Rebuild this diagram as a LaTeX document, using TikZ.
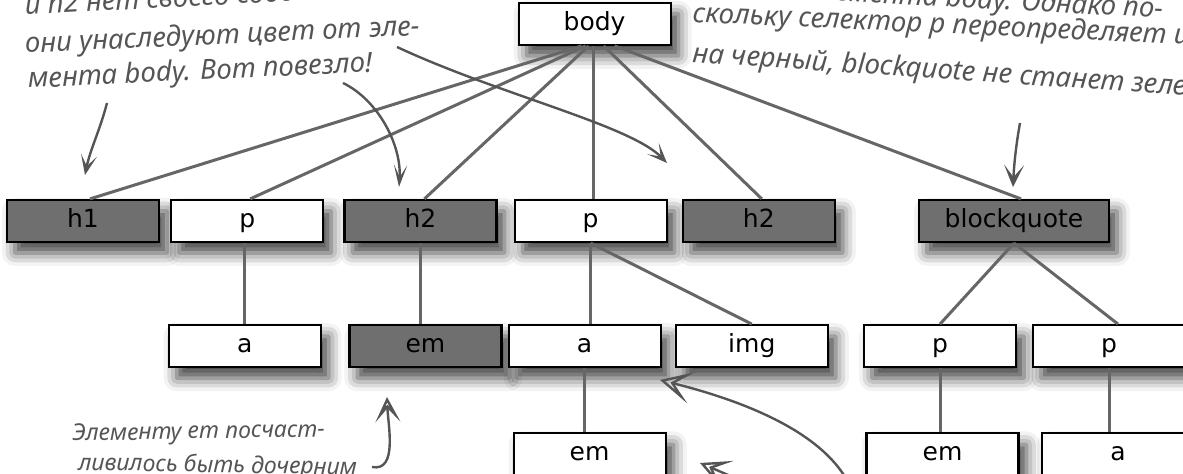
\documentclass[tikz,border=0pt]{standalone}
\usepackage{fontspec}
\setmainfont{DejaVu Sans}
\newfontfamily\handfont{Noto Sans}
\usetikzlibrary{arrows.meta,positioning,calc,shadows.blur}

\definecolor{branchgray}{HTML}{666666}
\definecolor{darkfill}{HTML}{6F6F6F}
\definecolor{notegray}{HTML}{555555}

\begin{document}
\begin{tikzpicture}[
  x=0.5pt, y=-0.5pt,
  elem/.style={draw=black, line width=1.1pt, fill=white, minimum width=76pt, minimum height=21pt, inner sep=0pt,
    text height=9pt, text depth=2.5pt, font=\fontsize{12.5}{13}\selectfont,
    blur shadow={shadow xshift=4pt, shadow yshift=-5.5pt, shadow blur radius=6.5pt, shadow opacity=75}},
  elemdark/.style={elem, fill=darkfill},
  branch/.style={draw=branchgray, line width=1.5pt},
  note/.style={text=notegray, inner sep=0pt, font=\handfont\itshape\fontsize{13.8}{16}\selectfont},
  small note/.style={note, font=\handfont\itshape\fontsize{11.5}{14}\selectfont},
  pointer/.style 2 args={draw=notegray, line width=1.2pt, -{Stealth[open, length=#1, width'=0pt #2, inset'=0pt 0.55]}},
]
  \useasboundingbox (0,0) rectangle (1183,474);
  \clip (0,0) rectangle (1183,474);

  % Row of body's children
  \node[elemdark] (h1) at (83,221) {h1};
  \node[elem, right=5pt of h1] (p1) {p};
  \node[elemdark, right=9.5pt of p1] (h2) {h2};
  \node[elem, right=8pt of h2] (p2) {p};
  \node[elemdark, right=7pt of p2] (h2b) {h2};
  \node[elemdark, right=41pt of h2b, minimum width=95pt] (bq) {blockquote};
  \node[elem, above=76.5pt of p2, xshift=2pt] (body) {body};

  % Second row
  \node[elem, below=40.5pt of p1, xshift=-1.25pt] (a1) {a};
  \node[elemdark, below=40.5pt of h2, xshift=2.5pt] (em1) {em};
  \node[elem, below=40.5pt of p2, xshift=-3pt] (a2) {a};
  \node[elem, below=40.5pt of h2b, xshift=-3.5pt] (img) {img};
  \node[elem, below=40.5pt of bq, xshift=-37pt] (p3) {p};
  \node[elem, below=40.5pt of bq, xshift=47.5pt] (p4) {p};

  % Third row
  \node[elem, below=32pt of a2, xshift=2.5pt] (em2) {em};
  \node[elem, below=32pt of p3, xshift=1.25pt] (em3) {em};
  \node[elem, below=32pt of p4, xshift=4.5pt] (a3) {a};

  % Branches
  \foreach \kid/\dx/\ex in {h1/-13/7, p1/-9/3, h2/-6/4, p2/-1/3, h2b/9/3, bq/20/7}
    \draw[branch] ($(body.south)+(\dx,0)$) -- ($(\kid.north)+(\ex,0)$);
  \draw[branch] (a1.north |- p1.south) -- (a1.north);
  \draw[branch] (h2.south) -- (h2.south |- em1.north);
  \draw[branch] (p2.south) -- (p2.south |- a2.north);
  \draw[branch] (p2.south) -- (img.north);
  \draw[branch] (a2.south) -- (a2.south |- em2.north);
  \draw[branch] (bq.south) -- (p3.north);
  \draw[branch] (bq.south) -- ($(p4.north)+(9,0)$);
  \draw[branch] (p3.south) -- (p3.south |- em3.north);
  \draw[branch] (p4.south) -- (p4.south |- a3.north);

  % Notes
  \node[note, anchor=base west, rotate=3] (noteL1) at (25,15) {и h2 нет своего собственного};
  \node[note, anchor=base west, rotate=2.6] (noteL2) at (25,53) {они унаследуют цвет от эле-};
  \node[note, anchor=base west, rotate=2.7] (noteL3) at (28,88) {мента body. Вот повезло!};
  \node[note, anchor=base east, rotate=-3] (noteR1) at (1163,18) {элемента body. Однако по-};
  \node[note, anchor=base west, rotate=-2.6] (noteR2) at (692,22) {скольку селектор p переопределяет цвет};
  \node[note, anchor=base west, rotate=-3.9] (noteR3) at (692,62) {на черный, blockquote не станет зеленым.};
  \node[small note, anchor=base west, rotate=1] (noteB1) at (72,441) {Элементу em посчаст-};
  \node[small note, anchor=base west, rotate=-1] (noteB2) at (78,470) {ливилось быть дочерним};

  % Pointers
  \coordinate (fromL) at (107,103);   \coordinate (toH1) at (85,175);
  \coordinate (fromM) at (343,83);    \coordinate (toH2) at (399,187);
  \coordinate (fromE) at (397,47);    \coordinate (toH2b) at (667,163);
  \coordinate (fromR) at (1020,123);  \coordinate (toBq) at (1013,187);
  \coordinate (fromB) at (372,467);   \coordinate (toEm) at (387,397);
  \coordinate (fromS) at (848,482);   \coordinate (toImg) at (660,380);
  \coordinate (fromT) at (770,495);   \coordinate (toEm2) at (700,463);
  \draw[pointer={10pt}{0.8}] (fromL) .. controls (100,130) and (90,150) .. (toH1);
  \draw[pointer={11pt}{0.6}] (fromM) .. controls (378,100) and (402,145) .. (toH2);
  \draw[pointer={10pt}{0.8}] (fromE) .. controls (500,95) and (630,125) .. (toH2b);
  \draw[pointer={11pt}{0.9}] (fromR) .. controls (1016,145) and (1014,165) .. (toBq);
  \draw[pointer={12.5pt}{1}] (fromB) .. controls (398,472) and (388,425) .. (toEm);
  \draw[pointer={16pt}{1}] (fromS) .. controls (820,430) and (740,400) .. (toImg);
  \draw[pointer={15pt}{1}] (fromT) .. controls (740,480) .. (toEm2);
\end{tikzpicture}
\end{document}
